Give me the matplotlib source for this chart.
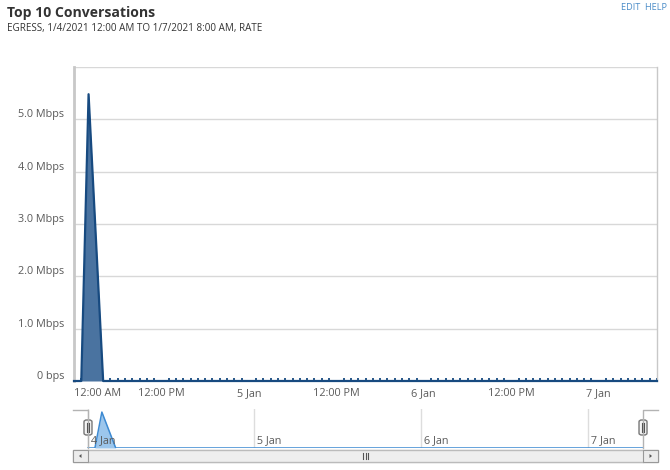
import numpy as np
import matplotlib
matplotlib.use('Agg')
import matplotlib.pyplot as plt
import matplotlib.dates as mdates
import matplotlib.transforms as mtrans
from matplotlib.patches import Rectangle, FancyBboxPatch, Polygon
import datetime as dt

plt.rcParams['font.family'] = ['Open Sans', 'DejaVu Sans']

# hourly rate samples, Mbps, from 1/4/2021 00:00
start = dt.datetime(2021, 1, 4, 0, 0)
hours = list(range(0, 81))
rate_mbps = [0.0] * 81
rate_mbps[2] = 5.48
rate_mbps[3] = 2.74

y_ticks = [0, 1, 2, 3, 4, 5, 6]
y_labels = ['0 bps', '1.0 Mbps', '2.0 Mbps', '3.0 Mbps', '4.0 Mbps', '5.0 Mbps', '']
x_tick_hours = [0, 12, 24, 36, 48, 60, 72]
x_labels = ['12:00 AM', '12:00 PM', '5 Jan', '12:00 PM', '6 Jan', '12:00 PM', '7 Jan']
nav_tick_hours = [0, 24, 48, 72]
nav_labels = ['4 Jan', '5 Jan', '6 Jan', '7 Jan']

times = [start + dt.timedelta(hours=h) for h in hours]
W, H = 670, 470

def fx(px):
    return px / W

def fy(py):
    return 1 - py / H

fig = plt.figure(figsize=(6.7, 4.7), dpi=100)

# header
fig.text(fx(7), fy(13), 'Top 10 Conversations', fontsize=10.1, fontweight='bold',
         color='#333333', va='center', ha='left')
fig.text(fx(7), fy(28), 'EGRESS, 1/4/2021 12:00 AM TO 1/7/2021 8:00 AM, RATE', fontsize=7.1,
         color='#333333', va='center', ha='left')
fig.text(fx(667), fy(8), 'EDIT  HELP', fontsize=6.6, color='#4a8cc8', va='center', ha='right')

# main chart
ax = fig.add_axes([fx(74), fy(381), fx(657 - 74), (381 - 67) / H])
line_c = '#174a80'
fill_c = '#4a73a0'
ax.fill_between(times, rate_mbps, 0, color=fill_c, lw=0, zorder=2)
ax.plot(times, rate_mbps, color=line_c, lw=1.6, zorder=3, clip_on=False)
ax.set_xlim(times[0], times[-1])
ax.set_ylim(0, 6)
ax.set_yticks(y_ticks)
ax.set_yticklabels(y_labels)
ax.yaxis.grid(True, color='#d8d8d8', lw=1)
ax.set_axisbelow(True)
ax.set_xticks([start + dt.timedelta(hours=h) for h in x_tick_hours])
ax.set_xticklabels(x_labels)
ax.xaxis.get_majorticklabels()[0].set_horizontalalignment('left')
ax.xaxis.set_minor_locator(mdates.HourLocator())
ax.tick_params(axis='both', which='major', length=0, labelsize=7.8, labelcolor='#5a5a5a')
ax.tick_params(axis='x', which='minor', direction='in', length=2.5, width=1.3, color=line_c)
ax.tick_params(axis='y', pad=7)
ax.tick_params(axis='x', pad=5)
shift = mtrans.ScaledTranslation(0, 6 / 100, fig.dpi_scale_trans)
for lab in ax.get_yticklabels():
    lab.set_transform(lab.get_transform() + shift)
for s in ['top', 'bottom']:
    ax.spines[s].set_visible(False)
ax.spines['left'].set_color('#c8c8c8')
ax.spines['left'].set_linewidth(2)
ax.spines['right'].set_color('#c8c8c8')
ax.spines['right'].set_linewidth(1)

# navigator
nav = fig.add_axes([fx(73), fy(448), fx(658 - 73), (448 - 409) / H])
pad = dt.timedelta(hours=2.16)
nav.set_xlim(times[0] - pad, times[-1] + pad)
nav.set_ylim(0, 5.95)
nav.fill_between(times, rate_mbps, 0, color='#9cc6ec', lw=0, zorder=2)
nav.plot(times, rate_mbps, color='#3d8ad2', lw=1.1, zorder=3)
nav_ticks = [start + dt.timedelta(hours=h) for h in nav_tick_hours]
for t, lab in zip(nav_ticks, nav_labels):
    nav.axvline(t, color='#dddddd', lw=1, zorder=1)
    nav.text(t, 0.2, ' ' + lab, transform=nav.get_xaxis_transform(), fontsize=7.8,
             color='#5a5a5a', ha='left', va='center', zorder=4)
nav.set_xticks([])
nav.set_yticks([])
for s in nav.spines.values():
    s.set_visible(False)

# navigator outline and handles
x0 = nav.transData.transform((mdates.date2num(times[0]), 0))[0]
x1 = nav.transData.transform((mdates.date2num(times[-1]), 0))[0]
out_c = '#b3b3b3'
fig.add_artist(plt.Line2D([fx(73), fx(x0), fx(x0)], [fy(409.5), fy(409.5), fy(448)],
                          color=out_c, lw=1))
fig.add_artist(plt.Line2D([fx(x1), fx(x1), fx(658)], [fy(448), fy(409.5), fy(409.5)],
                          color=out_c, lw=1))
for xp in [x0, x1]:
    fig.add_artist(FancyBboxPatch((fx(xp - 4), fy(435)), fx(8), 15 / H,
                                  boxstyle='round,pad=0,rounding_size=0.004',
                                  transform=fig.transFigure, fc='#f4f4f4', ec='#777777', lw=1))
    for dx in [-1.2, 1.2]:
        fig.add_artist(plt.Line2D([fx(xp + dx), fx(xp + dx)], [fy(423), fy(432)],
                                  color='#555555', lw=0.8))

# scrollbar
sb_top, sb_bot = 450, 462
fig.add_artist(Rectangle((fx(73), fy(sb_bot)), fx(658 - 73), (sb_bot - sb_top) / H,
                         transform=fig.transFigure, fc='#eeeeee', ec='#bbbbbb', lw=1))
grad = np.linspace(0.97, 0.86, 20).reshape(-1, 1)
thumb = fig.add_axes([fx(x0), fy(sb_bot), fx(x1 - x0), (sb_bot - sb_top) / H])
thumb.imshow(grad, aspect='auto', cmap='gray', vmin=0, vmax=1, extent=(0, 1, 0, 1))
thumb.set_xticks([])
thumb.set_yticks([])
for s in thumb.spines.values():
    s.set_color('#999999')
    s.set_linewidth(0.8)
mid = (x0 + x1) / 2
for dx in [-2.5, 0, 2.5]:
    fig.add_artist(plt.Line2D([fx(mid + dx), fx(mid + dx)], [fy(453), fy(459)],
                              color='#555555', lw=0.8))
for bx0, bx1, dirn in [(73, x0, -1), (x1, 658, 1)]:
    fig.add_artist(Rectangle((fx(bx0), fy(sb_bot)), fx(bx1 - bx0), (sb_bot - sb_top) / H,
                             transform=fig.transFigure, fc='#ececec', ec='#999999', lw=0.8))
    cx = (bx0 + bx1) / 2
    tri = [(fx(cx + 1.5 * dirn), fy(456)), (fx(cx - 1 * dirn), fy(454)), (fx(cx - 1 * dirn), fy(458))]
    fig.add_artist(Polygon(tri, closed=True, transform=fig.transFigure, fc='#555555', ec='none'))

fig.savefig('out.png', dpi=100)
